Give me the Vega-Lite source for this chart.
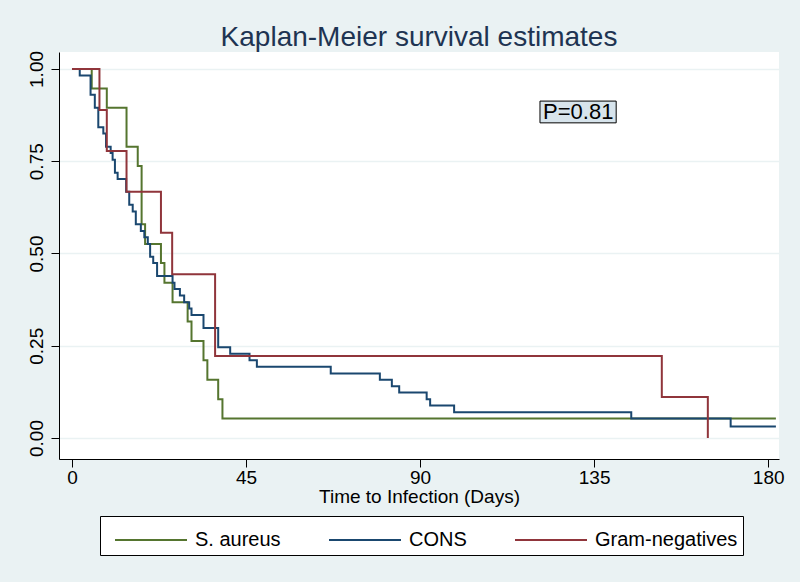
{
  "$schema": "https://vega.github.io/schema/vega-lite/v6.json",
  "autosize": {"type": "none"},
  "width": 720,
  "height": 407,
  "padding": {"left": 59, "top": 52, "right": 21, "bottom": 123},
  "background": "#EAF2F3",
  "title": {
    "text": "Kaplan-Meier survival estimates",
    "fontSize": 28,
    "font": "Liberation Sans",
    "fontWeight": "normal",
    "color": "#1E3452",
    "anchor": "middle",
    "offset": -2
  },
  "config": {
    "view": {"fill": "white", "stroke": null},
    "font": "Liberation Sans"
  },
  "datasets": {
    "km": [
      {"group": "S. aureus", "day": 0, "surv": 1},
      {"group": "S. aureus", "day": 5.1, "surv": 0.947},
      {"group": "S. aureus", "day": 9, "surv": 0.895},
      {"group": "S. aureus", "day": 14.1, "surv": 0.789},
      {"group": "S. aureus", "day": 17, "surv": 0.737},
      {"group": "S. aureus", "day": 18, "surv": 0.579},
      {"group": "S. aureus", "day": 18.9, "surv": 0.526},
      {"group": "S. aureus", "day": 23, "surv": 0.474},
      {"group": "S. aureus", "day": 23.9, "surv": 0.421},
      {"group": "S. aureus", "day": 26, "surv": 0.368},
      {"group": "S. aureus", "day": 29.9, "surv": 0.316},
      {"group": "S. aureus", "day": 30.9, "surv": 0.263},
      {"group": "S. aureus", "day": 34, "surv": 0.211},
      {"group": "S. aureus", "day": 35, "surv": 0.158},
      {"group": "S. aureus", "day": 37.8, "surv": 0.105},
      {"group": "S. aureus", "day": 38.9, "surv": 0.053},
      {"group": "S. aureus", "day": 182, "surv": 0.053},
      {"group": "CONS", "day": 0, "surv": 1},
      {"group": "CONS", "day": 2, "surv": 0.982},
      {"group": "CONS", "day": 4.8, "surv": 0.93},
      {"group": "CONS", "day": 5.9, "surv": 0.895},
      {"group": "CONS", "day": 6.8, "surv": 0.842},
      {"group": "CONS", "day": 8.1, "surv": 0.825},
      {"group": "CONS", "day": 8.8, "surv": 0.789},
      {"group": "CONS", "day": 10, "surv": 0.772},
      {"group": "CONS", "day": 10.5, "surv": 0.754},
      {"group": "CONS", "day": 11.1, "surv": 0.719},
      {"group": "CONS", "day": 11.8, "surv": 0.702},
      {"group": "CONS", "day": 14, "surv": 0.667},
      {"group": "CONS", "day": 14.8, "surv": 0.632},
      {"group": "CONS", "day": 15.7, "surv": 0.614},
      {"group": "CONS", "day": 16.5, "surv": 0.579},
      {"group": "CONS", "day": 17.8, "surv": 0.561},
      {"group": "CONS", "day": 18.7, "surv": 0.544},
      {"group": "CONS", "day": 19.6, "surv": 0.526},
      {"group": "CONS", "day": 20.2, "surv": 0.491},
      {"group": "CONS", "day": 21, "surv": 0.474},
      {"group": "CONS", "day": 22, "surv": 0.439},
      {"group": "CONS", "day": 26, "surv": 0.421},
      {"group": "CONS", "day": 26.5, "surv": 0.404},
      {"group": "CONS", "day": 27.9, "surv": 0.386},
      {"group": "CONS", "day": 29, "surv": 0.368},
      {"group": "CONS", "day": 30.3, "surv": 0.351},
      {"group": "CONS", "day": 30.9, "surv": 0.333},
      {"group": "CONS", "day": 34, "surv": 0.298},
      {"group": "CONS", "day": 37.8, "surv": 0.246},
      {"group": "CONS", "day": 40.9, "surv": 0.228},
      {"group": "CONS", "day": 45.9, "surv": 0.211},
      {"group": "CONS", "day": 47.8, "surv": 0.193},
      {"group": "CONS", "day": 66.9, "surv": 0.175},
      {"group": "CONS", "day": 79.6, "surv": 0.158},
      {"group": "CONS", "day": 82.7, "surv": 0.14},
      {"group": "CONS", "day": 84.6, "surv": 0.123},
      {"group": "CONS", "day": 91.7, "surv": 0.105},
      {"group": "CONS", "day": 92.6, "surv": 0.088},
      {"group": "CONS", "day": 98.8, "surv": 0.07},
      {"group": "CONS", "day": 144.6, "surv": 0.053},
      {"group": "CONS", "day": 170.3, "surv": 0.031},
      {"group": "CONS", "day": 182, "surv": 0.031},
      {"group": "Gram-negatives", "day": 0, "surv": 1},
      {"group": "Gram-negatives", "day": 7.1, "surv": 0.889},
      {"group": "Gram-negatives", "day": 9, "surv": 0.778},
      {"group": "Gram-negatives", "day": 14.1, "surv": 0.667},
      {"group": "Gram-negatives", "day": 23, "surv": 0.556},
      {"group": "Gram-negatives", "day": 25.9, "surv": 0.444},
      {"group": "Gram-negatives", "day": 37, "surv": 0.222},
      {"group": "Gram-negatives", "day": 152.5, "surv": 0.111},
      {"group": "Gram-negatives", "day": 164.4, "surv": 0}
    ],
    "pbox": [
      {"label": "P=0.81", "x1": 121, "x2": 140.7, "y1": 0.913, "y2": 0.854, "xm": 130.9, "ym": 0.883}
    ]
  },
  "layer": [
    {
      "data": {"name": "km"},
      "mark": {"type": "line", "interpolate": "step-after", "strokeWidth": 2},
      "encoding": {
        "x": {
          "field": "day", "type": "quantitative",
          "scale": {"domain": [-3.36, 182.8], "nice": false, "zero": false},
          "axis": {
            "values": [0, 45, 90, 135, 180],
            "title": "Time to Infection (Days)",
            "titleFontSize": 19, "titleFontWeight": "normal", "titleColor": "black",
            "titlePadding": 0,
            "labelFontSize": 19, "labelColor": "black", "labelPadding": 1,
            "tickSize": 8, "tickColor": "black", "domainColor": "black",
            "grid": false, "labelFlush": false
          }
        },
        "y": {
          "field": "surv", "type": "quantitative",
          "scale": {"domain": [-0.0569, 1.046], "nice": false, "zero": false},
          "axis": {
            "values": [0, 0.25, 0.5, 0.75, 1],
            "format": ".2f",
            "title": null,
            "labelAngle": -90, "labelAlign": "center", "labelBaseline": "bottom",
            "labelFontSize": 19, "labelColor": "black", "labelPadding": 5,
            "tickSize": 8, "tickColor": "black", "domainColor": "black",
            "grid": true, "gridColor": "#EAF2F3", "gridWidth": 1.5
          }
        },
        "color": {
          "field": "group", "type": "nominal",
          "scale": {"domain": ["S. aureus", "CONS", "Gram-negatives"], "range": ["#55752F", "#1A476F", "#90353B"]},
          "legend": {
            "title": null,
            "orient": "none",
            "direction": "horizontal",
            "legendX": 41,
            "legendY": 464,
            "symbolType": "M-0.5,0H3.5",
            "symbolSize": 1296,
            "symbolStrokeWidth": 2,
            "labelFontSize": 20,
            "labelColor": "black",
            "labelOffset": 52,
            "columnPadding": 38,
            "padding": 5,
            "strokeColor": "black",
            "fillColor": "white"
          }
        }
      }
    },
    {
      "data": {"name": "pbox"},
      "mark": {"type": "rect", "fill": "#D7E4EC", "stroke": "black", "strokeWidth": 1},
      "encoding": {
        "x": {"field": "x1", "type": "quantitative"},
        "x2": {"field": "x2"},
        "y": {"field": "y1", "type": "quantitative"},
        "y2": {"field": "y2"}
      }
    },
    {
      "data": {"name": "pbox"},
      "mark": {"type": "text", "fontSize": 22, "color": "black", "align": "center", "baseline": "middle"},
      "encoding": {
        "x": {"field": "xm", "type": "quantitative"},
        "y": {"field": "ym", "type": "quantitative"},
        "text": {"field": "label"}
      }
    }
  ]
}
